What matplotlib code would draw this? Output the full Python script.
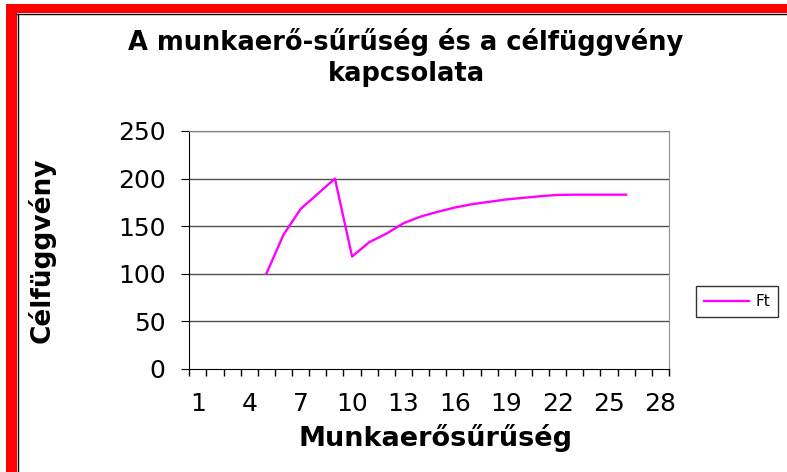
import matplotlib.pyplot as plt
from matplotlib.patches import Rectangle
from matplotlib.lines import Line2D

# ============================
# DATA
# ============================
categories = list(range(1, 29))
ft_x = [5, 6, 7, 8, 9, 10, 11, 12, 13, 14, 15, 16, 17, 18, 19, 20, 21, 22, 23, 24, 25, 26]
ft_y = [100, 141, 168, 184, 200, 118, 133, 142, 153, 160, 165, 169.5, 173, 175.5,
        178, 179.7, 181.4, 182.8, 183, 183, 183, 183]
tick_labels = [1, 4, 7, 10, 13, 16, 19, 22, 25, 28]
y_ticks = [0, 50, 100, 150, 200, 250]

W, H = 787, 472

def fx(x):
    return x / W

def fy(y):
    return 1 - y / H

plt.rcParams['font.family'] = ['DejaVu Sans']

fig = plt.figure(figsize=(W / 100, H / 100), dpi=100)
fig.patch.set_facecolor("white")

# red frame (top and left)
fig.patches.append(Rectangle((fx(6), fy(13)), fx(W - 6), 9 / H, transform=fig.transFigure,
                             facecolor="#ff0000", edgecolor="none"))
fig.patches.append(Rectangle((fx(6), 0), 11 / W, fy(4), transform=fig.transFigure,
                             facecolor="#ff0000", edgecolor="none"))
fig.lines.append(Line2D([fx(17), 1], [fy(13.5), fy(13.5)], transform=fig.transFigure,
                        color="black", lw=1))
fig.lines.append(Line2D([fx(17.5), fx(17.5)], [0, fy(13.5)], transform=fig.transFigure,
                        color="black", lw=1))

ax = fig.add_axes([fx(189.3), fy(368.7), (669 - 189.3) / W, (368.7 - 131) / H])

ax.plot(ft_x, ft_y, color="#ff00ff", lw=1.7, label="Ft")

ax.set_xlim(0.5, len(categories) + 0.5)
ax.set_ylim(0, 250)

ax.set_xticks(tick_labels)
ax.set_xticklabels([str(t) for t in tick_labels])
ax.set_xticks([c - 0.5 for c in categories] + [len(categories) + 0.5], minor=True)
ax.tick_params(axis="x", which="major", length=0, pad=17, labelsize=18)
ax.tick_params(axis="x", which="minor", length=5, direction="out", width=1)

ax.set_yticks(y_ticks)
ax.tick_params(axis="y", which="major", length=6, direction="out", pad=11, labelsize=18)

for v in y_ticks[1:]:
    ax.axhline(v, color="#505050", lw=1, zorder=0)

ax.spines["left"].set_color("black")
ax.spines["bottom"].set_color("black")
ax.spines["top"].set_color("#808080")
ax.spines["right"].set_color("#909090")

fig.text(fx(406), fy(42), "A munkaerő-sűrűség és a célfüggvény", ha="center", va="center",
         fontsize=18.5, fontweight="bold")
fig.text(fx(406), fy(74), "kapcsolata", ha="center", va="center",
         fontsize=18.5, fontweight="bold")
fig.text(fx(435), fy(438), "Munkaerősűrűség", ha="center", va="center",
         fontsize=19.5, fontweight="bold")
fig.text(fx(42), fy(250), "Célfüggvény", ha="center", va="center", rotation=90,
         fontsize=19, fontweight="bold")

leg = ax.legend(loc="center left", bbox_to_anchor=(fx(696), fy(301.5)),
                bbox_transform=fig.transFigure, fontsize=11, frameon=True,
                fancybox=False, edgecolor="black", handlelength=3.0,
                borderpad=0.5, handletextpad=0.4, borderaxespad=0)
leg.get_frame().set_linewidth(1)

fig.savefig("out.png", dpi=100)
